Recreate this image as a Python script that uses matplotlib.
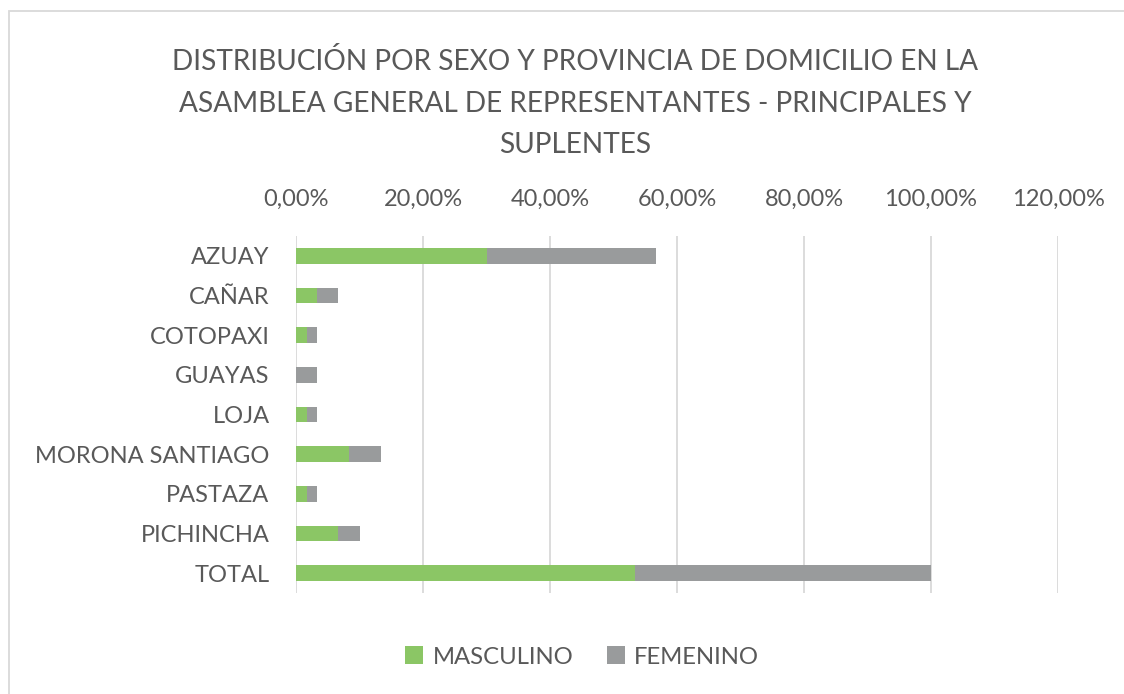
import matplotlib
matplotlib.use("Agg")
import matplotlib.pyplot as plt
from matplotlib.patches import Rectangle
from matplotlib.ticker import FuncFormatter, MultipleLocator

plt.rcParams['font.family'] = ['Lato', 'DejaVu Sans']

title = "DISTRIBUCIÓN POR SEXO Y PROVINCIA DE DOMICILIO EN LA\nASAMBLEA GENERAL DE REPRESENTANTES - PRINCIPALES Y\nSUPLENTES"
categories = ["AZUAY", "CAÑAR", "COTOPAXI", "GUAYAS", "LOJA",
              "MORONA SANTIAGO", "PASTAZA", "PICHINCHA", "TOTAL"]
masculino = [30.00, 3.33, 1.67, 0.00, 1.67, 8.33, 1.67, 6.67, 53.33]
femenino = [26.67, 3.33, 1.67, 3.33, 1.67, 5.00, 1.67, 3.33, 46.67]
series_names = ["MASCULINO", "FEMENINO"]

GREEN = "#8BC665"
GRAY = "#999B9C"
TEXT = "#595959"
GRID = "#D9D9D9"

W, H = 1124, 694
fig = plt.figure(figsize=(W / 100, H / 100), dpi=100)
fig.patch.set_facecolor("white")

# chart border
fig.add_artist(Rectangle((9 / W, -0.05), 1.2, 1 - 11 / H + 0.05,
                         transform=fig.transFigure, fill=False,
                         edgecolor="#D9D9D9", linewidth=1.3))

left, right = 296 / W, 1058 / W
top, bottom = 1 - 236 / H, 1 - 593 / H
ax = fig.add_axes([left, bottom, right - left, top - bottom])

y = list(range(len(categories)))
ax.barh(y, masculino, height=0.4, color=GREEN, label=series_names[0], zorder=3)
ax.barh(y, femenino, left=masculino, height=0.4, color=GRAY,
        label=series_names[1], zorder=3)

ax.set_xlim(0, 120)
ax.set_ylim(len(categories) - 0.5, -0.5)
ax.set_yticks(y)
ax.set_yticklabels(categories)
ax.xaxis.set_major_locator(MultipleLocator(20))
ax.xaxis.set_major_formatter(FuncFormatter(lambda v, p: f"{v:.2f}%".replace(".", ",")))
ax.xaxis.tick_top()
ax.grid(axis="x", color=GRID, linewidth=1.3, zorder=0)
for s in ax.spines.values():
    s.set_visible(False)
ax.tick_params(axis="both", length=0, labelsize=17, labelcolor=TEXT)
ax.tick_params(axis="x", pad=19)
ax.tick_params(axis="y", pad=19)

fig.text(575 / W, 1 - 103 / H, title, ha="center", va="center",
         fontsize=20.2, color=TEXT, linespacing=1.74)

fig.legend(loc="center", bbox_to_anchor=(582 / W, 1 - 657 / H), ncol=2,
           frameon=False, fontsize=17.2, labelcolor=TEXT,
           handlelength=0.75, handleheight=0.75, handletextpad=0.4,
           columnspacing=1.4)

fig.savefig("out.png", dpi=100, facecolor="white")
